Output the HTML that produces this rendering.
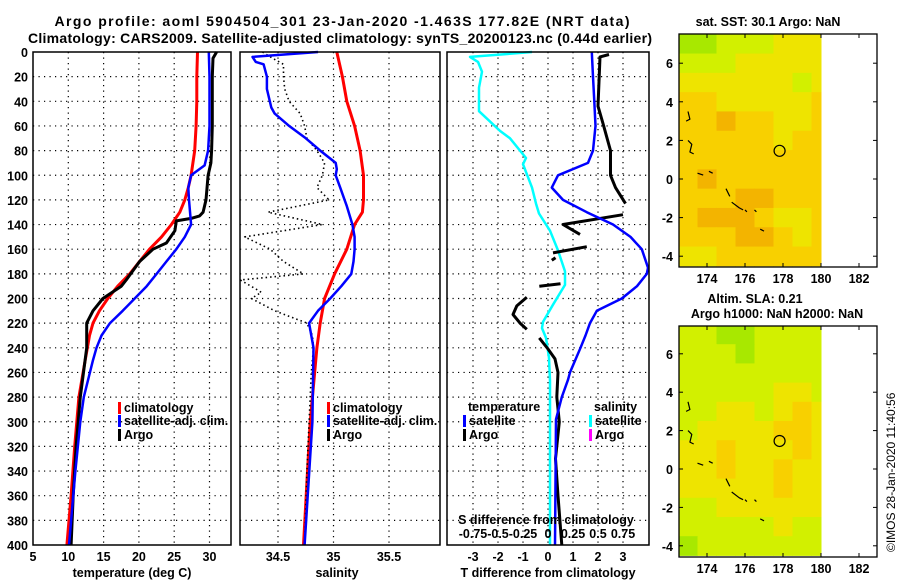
<!DOCTYPE html>
<html><head><meta charset="utf-8"><style>
html,body{margin:0;padding:0;background:#fff;}
svg{display:block;font-family:"Liberation Sans",sans-serif;}
.b{font-weight:bold;font-size:12.5px;}
</style></head><body>
<svg id="chart" width="900" height="580" viewBox="0 0 900 580" xmlns="http://www.w3.org/2000/svg">
<text x="342" y="26" text-anchor="middle" class="b" style="font-size:14px" textLength="575">Argo profile: aoml 5904504_301 23-Jan-2020 -1.463S 177.82E (NRT data)</text>
<text x="340" y="43" text-anchor="middle" class="b" style="font-size:14px" textLength="624">Climatology: CARS2009. Satellite-adjusted climatology: synTS_20200123.nc (0.44d earlier)</text>
<g id="g"></g>
</svg>
<script>
// ---------- data ----------
const depthTicks=[0,20,40,60,80,100,120,140,160,180,200,220,240,260,280,300,320,340,360,380,400];
const tempTicks=[5,10,15,20,25,30];
const salTicks=[34.5,35,35.5];
const tdiffTicks=[-3,-2,-1,0,1,2,3];
const sdiffTickLabels=["-0.75","-0.5","-0.25","0","0.25","0.5","0.75"];
const sdiffTicks=[-0.75,-0.5,-0.25,0,0.25,0.5,0.75];
// temperature panel
const climTdepth=[0,20,40,60,80,100,110,120,130,140,150,160,170,180,190,200,210,220,230,240,250,280,320,360,400];
const climT=[28.3,28.2,28.2,28.1,27.9,27.4,27.0,26.5,25.8,24.6,23.2,21.5,20.1,18.7,17.0,15.6,14.4,13.5,13.0,12.7,12.4,11.5,10.9,10.4,9.8];
const satTdepth=[0,20,40,60,80,92,100,110,120,140,150,160,170,180,190,200,210,220,230,240,250,280,300,340,400];
const satT=[29.9,30.0,30.0,30.0,29.8,29.3,27.4,27.0,27.1,27.4,26.5,25.3,23.9,22.5,21.1,19.4,17.7,15.9,14.7,14.0,13.5,12.2,11.7,11.0,10.1];
const argoTdepth=[0,5,20,40,60,80,90,100,120,130,133,135,137,145,155,160,170,185,190,200,210,220,240,280,320,360,400];
const argoT=[31.0,30.5,30.4,30.4,30.4,30.3,30.2,29.8,29.5,29.1,28.6,27.4,25.3,25.1,23.9,22.0,20.1,18.2,17.5,14.9,13.5,12.6,12.6,11.7,11.1,10.7,10.4];
// salinity panel
const climSdepth=[0,20,40,60,80,100,120,130,140,160,180,200,220,240,300,400];
const climS=[35.03,35.08,35.12,35.19,35.24,35.27,35.27,35.26,35.19,35.12,35.01,34.92,34.88,34.85,34.79,34.73];
const satSdepth=[0,4,8,10,20,30,45,50,60,70,80,90,95,100,110,120,125,140,150,160,170,180,190,200,210,220,225,230,240,300,400];
const satS=[34.86,34.27,34.30,34.37,34.40,34.40,34.44,34.47,34.60,34.75,34.88,35.02,35.03,35.02,35.06,35.10,35.12,35.17,35.19,35.19,35.18,35.16,35.07,34.97,34.86,34.78,34.79,34.80,34.82,34.81,34.74];
const argoSdepth=[0,5,10,20,30,40,50,60,70,80,90,100,110,120,130,140,150,160,170,180,185,195,200,210,220,230,240,260,300,340,400];
const argoS=[34.36,34.45,34.55,34.55,34.56,34.60,34.70,34.74,34.76,34.85,34.92,34.90,34.85,34.96,34.41,34.90,34.20,34.43,34.55,34.73,34.16,34.35,34.26,34.47,34.76,34.81,34.82,34.80,34.78,34.76,34.74];
// difference panel
const satTdDepth=[0,20,40,60,80,90,100,110,120,130,140,150,160,175,180,190,200,210,220,230,240,260,266,280,298,400];
const satTd=[1.75,1.8,1.85,1.9,1.8,1.6,0.4,0.15,0.6,1.55,2.6,3.3,3.75,4.0,3.95,3.56,2.95,1.95,1.68,1.5,1.3,0.88,0.8,0.55,0.32,0.28];
const argoTdSegs=[
 {d:[2,4,44,58,80,100,110,123],v:[2.44,2.08,2.0,2.2,2.5,2.5,2.7,3.1]},
 {d:[132,140,148],v:[3.0,0.6,1.28]},
 {d:[158,163],v:[1.55,0.2]},
 {d:[167,169],v:[0.3,0.15]},
 {d:[188,190],v:[0.5,-0.35]},
 {d:[199,206,213,220,225],v:[-0.85,-1.25,-1.4,-1.12,-0.85]},
 {d:[232,241,249,260,280,300,330,360,400],v:[-0.35,0,0.28,0.4,0.35,0.45,0.3,0.4,0.55]}
];
const satSdDepth=[0,4,8,16,29,48,51,64,70,86,91,110,123,131,145,161,178,189,205,219,224,232,248,267,400];
const satSd=[-0.16,-0.78,-0.70,-0.66,-0.69,-0.69,-0.65,-0.48,-0.38,-0.22,-0.25,-0.16,-0.12,-0.09,0.02,0.1,0.17,0.17,0.05,-0.05,-0.06,-0.02,0.01,0.02,0.02];
// maps
const mapLonTicks=[174,176,178,180,182];
const mapLatTicks=[-4,-2,0,2,4,6];
const cellLons=[172.5,173.5,174.5,175.5,176.5,177.5,178.5,179.5];
const cellLats=[7.5,6.5,5.5,4.5,3.5,2.5,1.5,0.5,-0.5,-1.5,-2.5,-3.5];
const sstGrid=[
[0,0,1,1,1,2,2,2],[1,1,1,2,2,2,2,2],[2,2,2,2,2,2,1,2],[3,3,2,2,2,2,2,3],
[3,3,4,3,3,2,2,3],[3,3,3,3,3,2,3,3],[3,3,3,3,3,3,3,3],[3,4,3,3,3,3,3,3],
[3,3,3,4,4,3,3,3],[3,4,4,4,3,2,2,3],[3,3,3,4,4,3,2,3],[2,2,3,3,3,3,3,3]];
const slaGrid=[
[1,1,0,0,1,1,1,1],[1,1,1,0,1,1,1,1],[1,1,1,1,1,1,1,1],[1,1,1,1,1,2,2,1],
[1,1,2,2,1,2,3,2],[1,2,2,2,2,3,3,2],[2,2,3,2,2,2,3,2],[2,2,3,2,2,3,2,2],
[2,2,2,2,2,3,2,2],[1,1,2,2,2,2,2,2],[1,1,1,1,1,2,1,1],[0,1,1,1,1,1,1,1]];
const coastLon=[[172.9,173.1,173.0],[173.0,173.2,173.1,173.3],[173.5,173.8],[174.1,174.3],[175.0,175.2],[175.3,175.7,175.9],[176.0,176.1],[176.5,176.6],[176.8,177.0]];
const coastLat=[[3.0,3.1,3.5],[2.0,1.8,1.4,1.3],[0.3,0.2],[0.4,0.3],[-0.5,-0.9],[-1.2,-1.5,-1.6],[-1.6,-1.7],[-1.6,-1.7],[-2.6,-2.7]];
const argoLon=177.82, argoLat=1.46;
const colorStops=['#a8e800','#d2f000','#eee400','#f8d000','#f3b400','#ec9800'];
// ---------- axes ----------
const yD=d=>52+d*1.2325;
const xT=t=>33+(t-5)*7.06;
const xS=s=>278+(s-34.5)*111;
const xTd=t=>548+25*t;
const xSd=s=>548+100*s;
const mx=l=>707+(l-174)*19;
const my1=a=>179-a*19.3;
const my2=a=>469-a*19.2;
const NS='http://www.w3.org/2000/svg';
const G=document.getElementById('g');
function mk(tag,at,parent){const e=document.createElementNS(NS,tag);for(const k in at)e.setAttribute(k,at[k]);(parent||G).appendChild(e);return e;}
function txt(x,y,s,anchor,cls){const e=mk('text',{x:x,y:y,'text-anchor':anchor||'middle','class':cls||'b'});e.textContent=s;return e;}
function line(xs,ys,col,w,dash){let d='';for(let i=0;i<xs.length;i++)d+=(i?'L':'M')+xs[i].toFixed(1)+' '+ys[i].toFixed(1);const at={d:d,fill:'none',stroke:col,'stroke-width':w,'stroke-linejoin':'round'};if(dash)at['stroke-dasharray']=dash;return mk('path',at);}
const panels=[{x0:33,x1:231,name:'temperature'},{x0:240,x1:440,name:'salinity'},{x0:447,x1:649,name:'difference'}];
panels.forEach((p,pi)=>{
  depthTicks.forEach(d=>{ if(d>0&&d<400){const l=mk('line',{x1:p.x0,x2:p.x1,y1:yD(d),y2:yD(d),stroke:'#000','stroke-width':1.2,'stroke-dasharray':'1.2 4.3'});
   
   }});
});
tempTicks.forEach(t=>{ if(t>5){const l=mk('line',{x1:xT(t),x2:xT(t),y1:52,y2:545,stroke:'#000','stroke-width':1.2,'stroke-dasharray':'1.2 4.3'});
 
 }
 const e=txt(xT(t),561,String(t));
 
 });
salTicks.forEach(s=>{const l=mk('line',{x1:xS(s),x2:xS(s),y1:52,y2:545,stroke:'#000','stroke-width':1.2,'stroke-dasharray':'1.2 4.3'});
 
 
 const e=txt(xS(s),561,String(s));
 
 });
tdiffTicks.forEach(t=>{const l=mk('line',{x1:xTd(t),x2:xTd(t),y1:52,y2:545,stroke:'#000','stroke-width':1.2,'stroke-dasharray':'1.2 4.3'});
 
 
 const e=txt(xTd(t),561,String(t));
 
 });
depthTicks.forEach(d=>{const e=txt(28,yD(d)+5,String(d),'end');
 
 });
// series
function series(xf,xs,ds,col,w,name,dash){const p=line(xs.map(xf),ds.map(yD),col,w,dash);
 
 }
series(xT,climT,climTdepth,'#ff0000',3,'climatology-temperature-line');
series(xT,argoT,argoTdepth,'#000',3,'argo-temperature-line');
series(xT,satT,satTdepth,'#0000ff',2.5,'satellite-temperature-line');
series(xS,climS,climSdepth,'#ff0000',3,'climatology-salinity-line');
series(xS,argoS,argoSdepth,'#000',1.6,'argo-salinity-line','1.5 3');
series(xS,satS,satSdepth,'#0000ff',2.5,'satellite-salinity-line');
series(xSd,satSd,satSdDepth,'#00ffff',2.5,'satellite-s-diff-line');
argoTdSegs.forEach(s=>series(xTd,s.v,s.d,'#000',3,'argo-t-diff-line'));
series(xTd,satTd,satTdDepth,'#0000ff',2.5,'satellite-t-diff-line');
panels.forEach(p=>{const r=mk('rect',{x:p.x0,y:52,width:p.x1-p.x0,height:493,fill:'none',stroke:'#000','stroke-width':1.5});
 
 });
// legends
function leg(x,y,col,label,name){const b=mk('rect',{x:x,y:y-10,width:3,height:12,fill:col});
 
 
 if(label){const t=txt(x+6,y,label,'start');
 
 }}
leg(118,412,'#ff0000','climatology','legend-climatology');
leg(118,425,'#0000ff','satellite-adj. clim.','legend-satellite');
leg(118,439,'#000','Argo','legend-argo');
leg(327,412,'#ff0000','climatology','legend2-climatology');
leg(327,425,'#0000ff','satellite-adj. clim.','legend2-satellite');
leg(327,439,'#000','Argo','legend2-argo');
let t1=txt(468,411,'temperature','start');
let t2=txt(594,411,'salinity','start');
leg(463,425,'#0000ff','satellite','legend-t-satellite');
leg(463,439,'#000','Argo','legend-t-argo');
leg(589,425,'#00ffff','satellite','legend-s-satellite');
leg(589,439,'#ff00ff','Argo','legend-s-argo');
let t3=txt(546,524,'S difference from climatology');
sdiffTicks.forEach((s,i)=>{const e=txt(xSd(s),538,sdiffTickLabels[i]);
 
 });
let x1=txt(132,577,'temperature (deg C)');
let x2=txt(337,577,'salinity');
let x3=txt(548,577,'T difference from climatology');
// maps
function col(v){return colorStops[Math.max(0,Math.min(colorStops.length-1,Math.round(v)))];}
function map(grid,my,top,bot,name){
 grid.forEach((row,ri)=>row.forEach((v,ci)=>{
  const lo=cellLons[ci],la=cellLats[ri];
  const xa=Math.max(679,mx(lo)),xb=Math.min(mx(180),mx(lo+1));
  const ya=Math.max(top,my(la)),yb=Math.min(bot,my(la-1));
  const r=mk('rect',{x:xa,y:ya,width:xb-xa+0.5,height:yb-ya+0.5,fill:col(v)});
  
  }));
 coastLon.forEach((c,i)=>{const p=line(c.map(mx),coastLat[i].map(my),'#000',1.2);
  
  });
 const c=mk('circle',{cx:mx(argoLon),cy:my(argoLat),r:5.5,fill:'none',stroke:'#000','stroke-width':1.2});
 
 
 const f=mk('rect',{x:679,y:top,width:198,height:bot-top,fill:'none',stroke:'#000','stroke-width':1.3});
 
 
 mapLatTicks.forEach(a=>{const y=my(a);
  mk('line',{x1:679,x2:683,y1:y,y2:y,stroke:'#000'});mk('line',{x1:873,x2:877,y1:y,y2:y,stroke:'#000'});
  const e=txt(673,y+5,String(a),'end');
  
  });
 mapLonTicks.forEach(l=>{const x=mx(l);
  mk('line',{x1:x,x2:x,y1:bot,y2:bot-4,stroke:'#000'});mk('line',{x1:x,x2:x,y1:top,y2:top+4,stroke:'#000'});
  const e=txt(x,bot+16,String(l));
  
  });
}
map(sstGrid,my1,34,267,'sst-map');
map(slaGrid,my2,326,557,'sla-map');
let m1=txt(768,26,'sat. SST: 30.1 Argo: NaN');
let m2=txt(755,303,'Altim. SLA: 0.21');
let m3=txt(777,318,'Argo h1000: NaN h2000: NaN');
const cr=mk('text',{x:0,y:0,transform:'translate(895,552) rotate(-90)','font-size':'12'});
cr.textContent='©IMOS 28-Jan-2020 11:40:56';


</script>
</body></html>
